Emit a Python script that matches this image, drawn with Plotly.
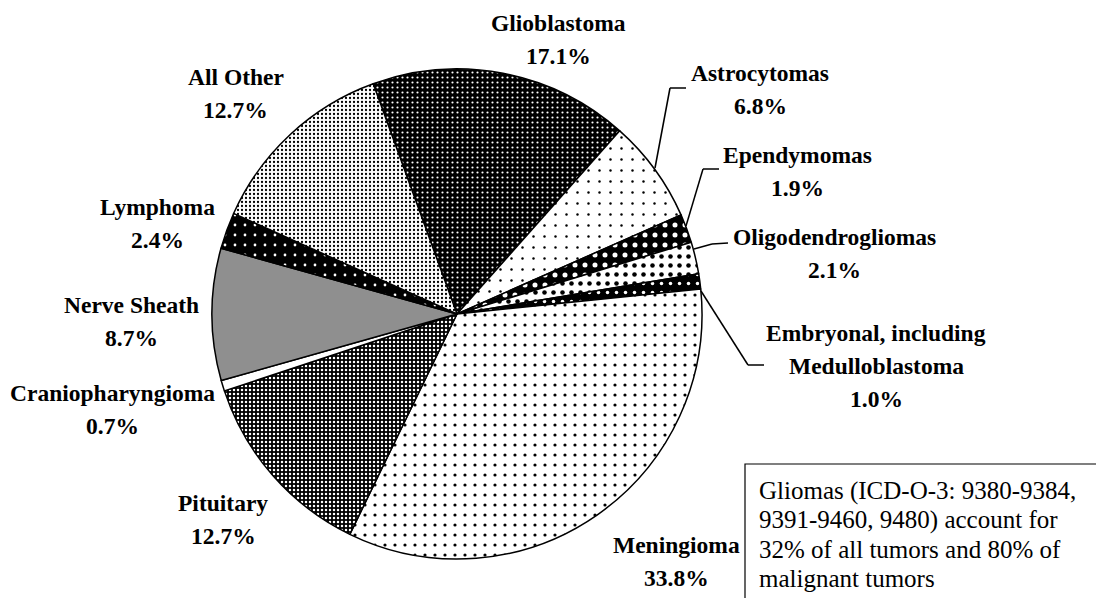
import plotly.graph_objects as go

# ---- data ----
labels = ["Glioblastoma", "Astrocytomas", "Ependymomas", "Oligodendrogliomas",
          "Embryonal, including\nMedulloblastoma", "Meningioma", "Pituitary",
          "Craniopharyngioma", "Nerve Sheath", "Lymphoma", "All Other"]
values = [17.1, 6.8, 1.9, 2.1, 1.0, 33.8, 12.7, 0.7, 8.7, 2.4, 12.7]
note_lines = ["Gliomas (ICD-O-3: 9380-9384,", "9391-9460, 9480) account for",
              "32% of all tumors and 80% of", "malignant tumors"]

# ---- styles (pattern per slice) ----
bg = ["black", "white", "black", "white", "black", "white", "black", "white", "white", "black", "white"]
fg = ["white", "black", "white", "black", "white", "black", "white", "black", "black", "white", "black"]
shp = [".", ".", ".", ".", ".", ".", ".", "", ".", ".", "."]
psize = [5, 11, 10, 9, 9, 10, 4, 8, 2, 10, 4]
psol = [0.15, 0.04, 0.2, 0.2, 0.12, 0.08, 0.3, 0.1, 0.5, 0.06, 0.25]

# label placement in pixels (center x, first line y)
label_pos = [(558, 23), (760, 73), (797, 155), (834, 237), (876, 333), (676, 545),
             (223, 503), (112, 393), (131, 305), (157, 207), (236, 77)]
line_gap = 33
leaders = [
    [(655, 168), (670, 88), (686, 88)],
    [(686, 226), (703, 169), (719, 169)],
    [(694, 249), (712, 244), (728, 243)],
    [(701, 291), (748, 365), (764, 365)],
]

W, H = 1096, 598
px = lambda x: x / W
py = lambda y: 1 - y / H

cx, cy, r = 457, 314, 245
SERIF = "Liberation Serif, Times New Roman, serif"

fig = go.Figure(go.Pie(
    labels=[l.replace("\n", " ") for l in labels],
    values=values,
    sort=False,
    direction="clockwise",
    rotation=340,
    textinfo="none",
    hoverinfo="label+percent",
    showlegend=False,
    domain=dict(x=[px(cx - r), px(cx + r)], y=[py(cy + r), py(cy - r)]),
    marker=dict(
        colors=bg,
        line=dict(color="black", width=1.5),
        pattern=dict(shape=shp, fgcolor=fg, bgcolor=bg, size=psize,
                     solidity=psol, fillmode="replace"),
    ),
))

annotations = []
for lab, v, (x, y) in zip(labels, values, label_pos):
    lines = lab.split("\n") + [f"{v:.1f}%"]
    for i, t in enumerate(lines):
        annotations.append(dict(
            x=px(x), y=py(y + i * line_gap), xref="paper", yref="paper",
            text=f"<b>{t}</b>", showarrow=False, xanchor="center", yanchor="middle",
            font=dict(family=SERIF, size=23.5, color="black"),
        ))

for i, t in enumerate(note_lines):
    annotations.append(dict(
        x=px(757), y=py(491 + i * 29), xref="paper", yref="paper",
        text=t, showarrow=False, xanchor="left", yanchor="middle",
        font=dict(family=SERIF, size=25, color="black"),
    ))

shapes = []
for pts in leaders:
    for (x0, y0), (x1, y1) in zip(pts[:-1], pts[1:]):
        shapes.append(dict(type="line", xref="paper", yref="paper",
                           x0=px(x0), y0=py(y0), x1=px(x1), y1=py(y1),
                           line=dict(color="black", width=1.5)))
shapes.append(dict(type="rect", xref="paper", yref="paper",
                   x0=px(745), y0=py(620), x1=px(1110), y1=py(464),
                   line=dict(color="black", width=1.2), fillcolor="rgba(0,0,0,0)"))

fig.update_layout(
    width=W, height=H,
    margin=dict(l=0, r=0, t=0, b=0),
    paper_bgcolor="white", plot_bgcolor="white",
    annotations=annotations, shapes=shapes,
)

fig.write_html("out.html", config={"displayModeBar": False},
               post_script="document.body.style.margin='0px';")
